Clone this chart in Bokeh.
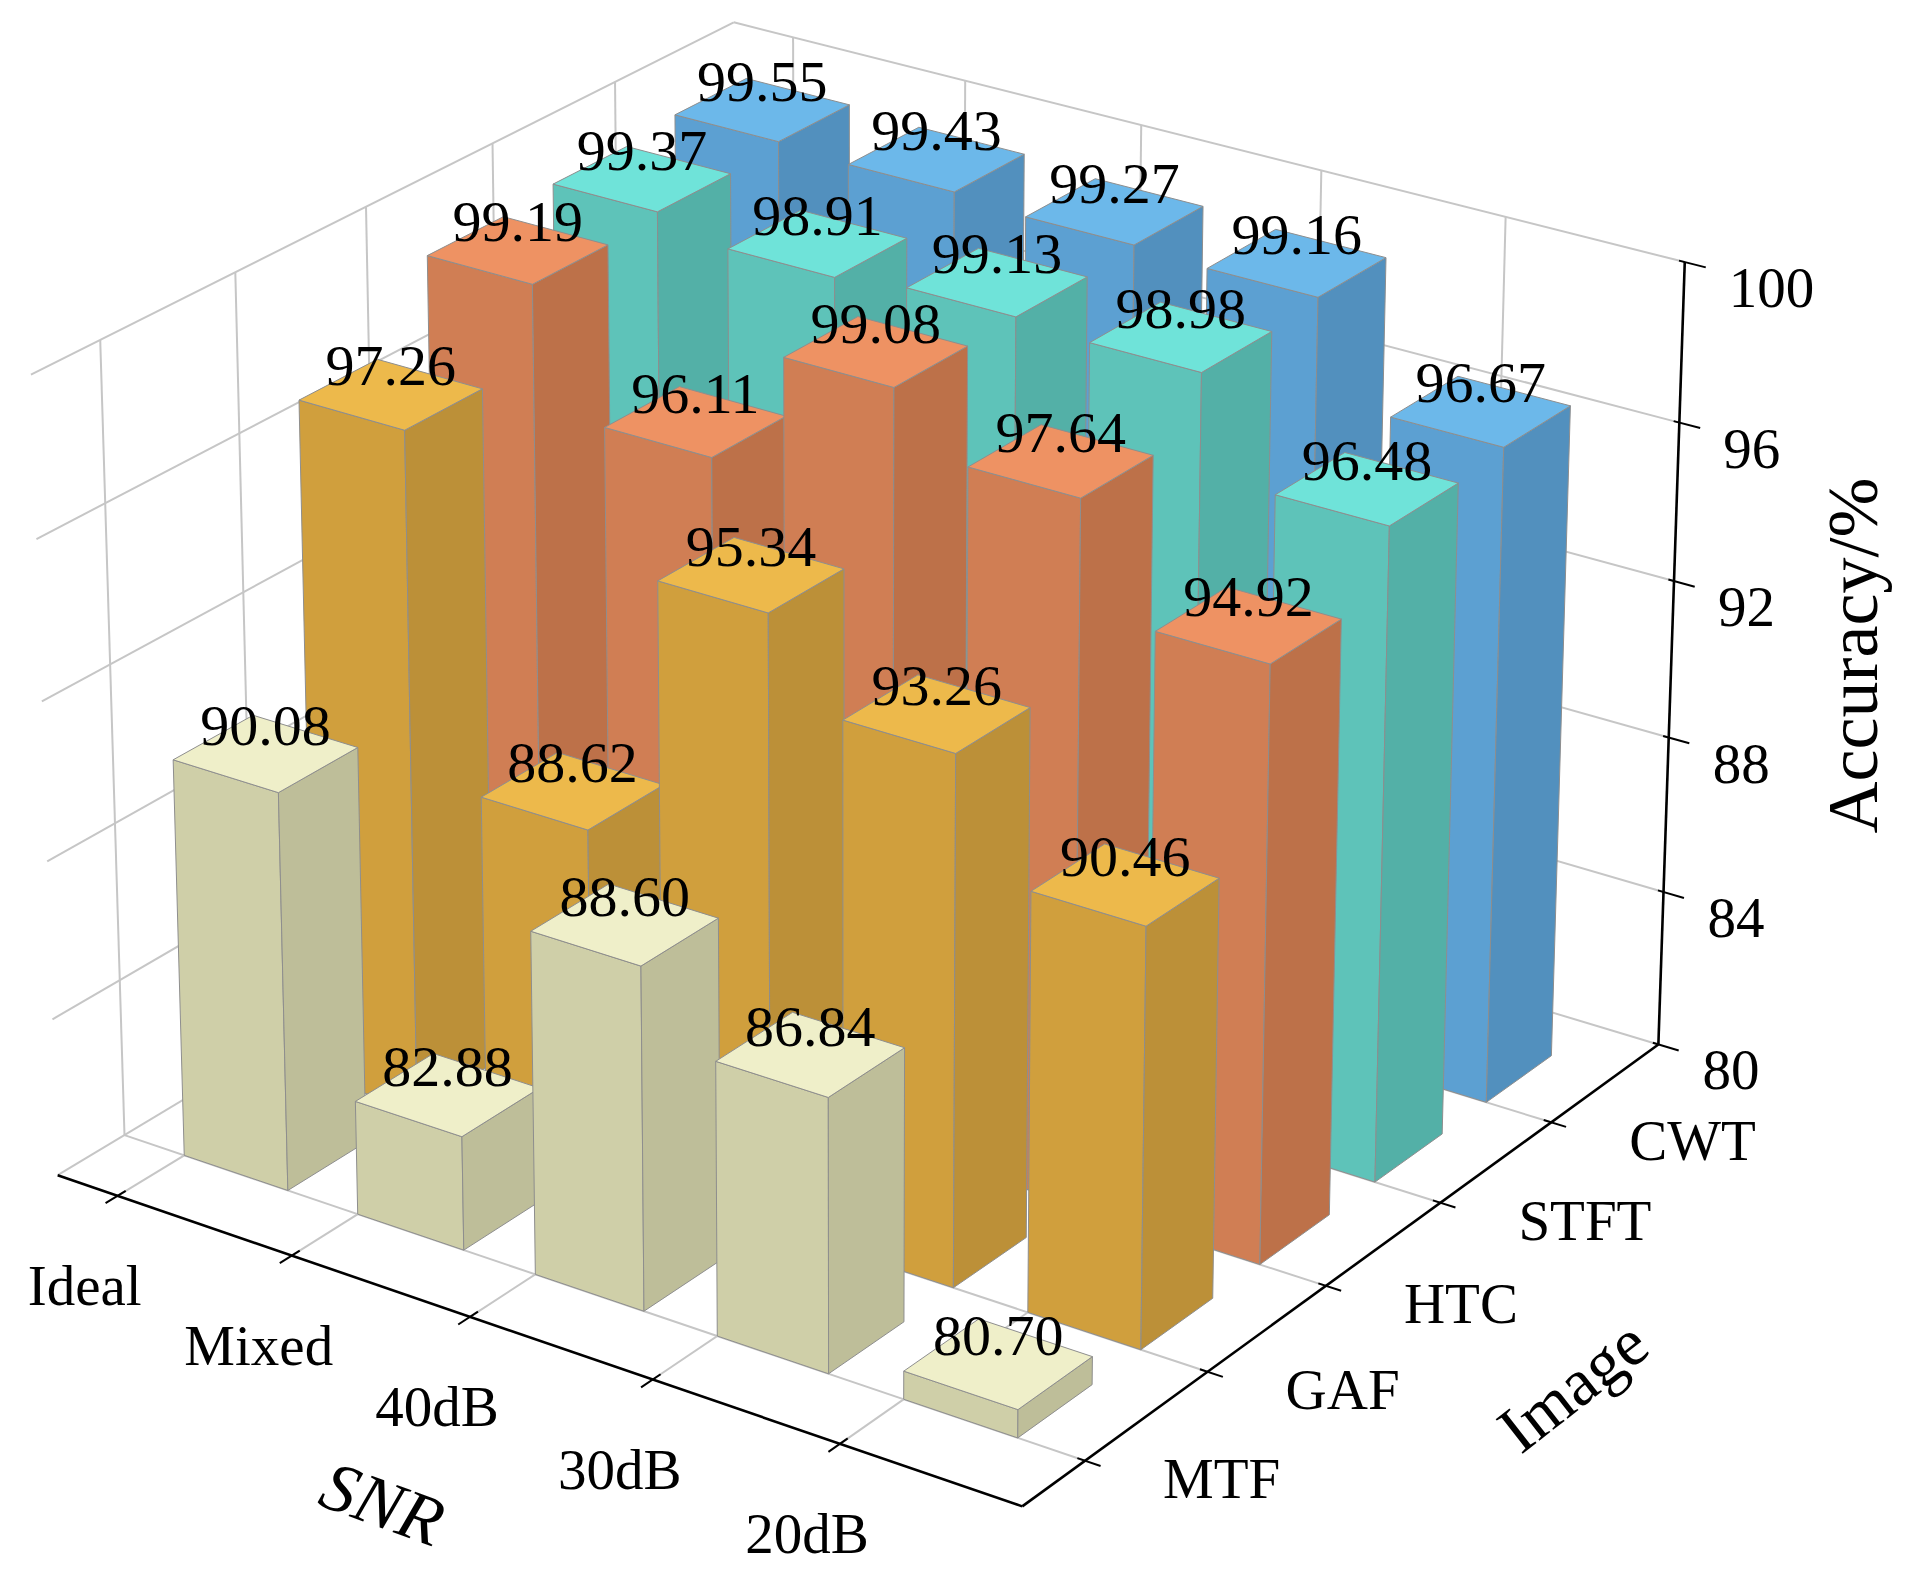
import numpy as np
from bokeh.plotting import figure
from bokeh.models import Range1d, ColumnDataSource
from bokeh.embed import file_html
from bokeh.resources import INLINE
from bokeh.core.properties import value

# ---------------- data ----------------
snr_labels = ["Ideal", "Mixed", "40dB", "30dB", "20dB"]
image_labels = ["MTF", "GAF", "HTC", "STFT", "CWT"]
acc_mtf = [90.08, 82.88, 88.60, 86.84, 80.70]
acc_gaf = [97.26, 88.62, 95.34, 93.26, 90.46]
acc_htc = [99.19, 96.11, 99.08, 97.64, 94.92]
acc_stft = [99.37, 98.91, 99.13, 98.98, 96.48]
acc_cwt = [99.55, 99.43, 99.27, 99.16, 96.67]
z_ticks = [80, 84, 88, 92, 96, 100]

series = [acc_mtf, acc_gaf, acc_htc, acc_stft, acc_cwt]

# ---------------- style ----------------
TOP = ["#EFEFC9", "#EDB94B", "#EE9263", "#6FE3D9", "#6CB8EA"]
FRONT = ["#CFCFA8", "#D09F3D", "#D07E54", "#5EC3B9", "#5CA0D2"]
SIDE = ["#BEBE99", "#BC9038", "#BD7149", "#53B0A7", "#5290BE"]
FONT = "Liberation Serif"
GRID = "#c6c6c6"
TXT_SHIFT = 13  # px, compensates baseline placement

# box extents (category units / accuracy)
X0, X1 = 0.65, 5.95
Y0, Y1 = 0.5, 6.0
Z0, Z1 = 80.0, 100.0
BAR_W = 0.6

# camera projection (homogeneous 3x4, world -> page pixels)
M = np.array([
    [150.37597711271601, 120.19824395009692, -1.238039101853491, -1.1019174176106425],
    [39.54345423526473, -54.42899561858297, -35.982771728038884, 3927.084417211682],
    [-0.010416330387801702, 0.01452490758236034, -0.001440910611212899, 1.0],
])


def proj(x, y, z):
    h = M @ np.array([x, y, z, 1.0])
    return h[0] / h[2], h[1] / h[2]


def depth(x, y, z):
    h = M @ np.array([x, y, z, 1.0])
    return h[2]


W, H = 1899, 1579
p = figure(width=W, height=H, output_backend="svg", toolbar_location=None,
           x_range=Range1d(8, 8 + W), y_range=Range1d(-(8 + H), -8),
           x_axis_location=None, y_axis_location=None, min_border=0)
p.grid.visible = False
p.outline_line_color = None
p.background_fill_color = "white"
p.border_fill_color = "white"


def seg_list(segs):
    xs, ys = [], []
    for a, b in segs:
        u1, v1 = proj(*a)
        u2, v2 = proj(*b)
        xs.append([u1, u2])
        ys.append([-v1, -v2])
    return xs, ys


# ---------------- grid (floor + walls) ----------------
grid = []
ticks_x = [i + 1 for i in range(len(snr_labels))]
ticks_y = [j + 1 for j in range(len(image_labels))]
for t in ticks_x:
    grid.append(((t, Y0, Z0), (t, Y1, Z0)))          # floor
    grid.append(((t, Y1, Z0), (t, Y1, Z1)))          # back wall (image end)
for t in ticks_y:
    grid.append(((X0, t, Z0), (X1, t, Z0)))          # floor
    grid.append(((X0, t, Z0), (X0, t, Z1)))          # left wall
grid.append(((X0, Y0, Z0), (X0, Y1, Z0)))
grid.append(((X0, Y1, Z0), (X1, Y1, Z0)))
for z in z_ticks[1:]:
    grid.append(((X0, Y0, z), (X0, Y1, z)))
    grid.append(((X0, Y1, z), (X1, Y1, z)))
gx, gy = seg_list(grid)
p.multi_line(gx, gy, line_color=GRID, line_width=2)

# ---------------- bars ----------------
bars = []
for j, vals in enumerate(series):
    for i, val in enumerate(vals):
        xa, ya = ticks_x[i], ticks_y[j]
        xb, yb = xa + BAR_W, ya + BAR_W
        d = depth(xa + BAR_W / 2, ya + BAR_W / 2, Z0)
        bars.append((d, j, i, xa, xb, ya, yb, val))
bars.sort(key=lambda b: -b[0])

fx, fy, fc = [], [], []
for d, j, i, xa, xb, ya, yb, val in bars:
    faces = [
        ([(xa, ya, Z0), (xb, ya, Z0), (xb, ya, val), (xa, ya, val)], FRONT[j]),
        ([(xb, ya, Z0), (xb, yb, Z0), (xb, yb, val), (xb, ya, val)], SIDE[j]),
        ([(xa, ya, val), (xb, ya, val), (xb, yb, val), (xa, yb, val)], TOP[j]),
    ]
    for pts, col in faces:
        uv = [proj(*q) for q in pts]
        fx.append([u for u, v in uv])
        fy.append([-v for u, v in uv])
        fc.append(col)
p.patches(xs="xs", ys="ys", fill_color="c", line_color="#8e8e8e", line_width=1,
          source=ColumnDataSource(dict(xs=fx, ys=fy, c=fc)))

# ---------------- axes ----------------
axes = [((X0, Y0, Z0), (X1, Y0, Z0)),
        ((X1, Y0, Z0), (X1, Y1, Z0)),
        ((X1, Y1, Z0), (X1, Y1, Z1))]
ticks = []
for t in ticks_x:
    ticks.append(((t, Y0 - 0.09, Z0), (t, Y0 + 0.06, Z0)))
for t in ticks_y:
    ticks.append(((X1 - 0.04, t, Z0), (X1 + 0.08, t, Z0)))
for z in z_ticks:
    ticks.append(((X1 - 0.03, Y1, z), (X1 + 0.11, Y1, z)))
ax, ay = seg_list(axes)
p.multi_line(ax, ay, line_color="black", line_width=2.6)
tx, ty = seg_list(ticks)
p.multi_line(tx, ty, line_color="black", line_width=2)

# ---------------- tick labels ----------------
lx, ly = [], []
for t in ticks_x:
    u, v = proj(t, Y0, Z0)
    lx.append(u - 33)
    ly.append(-(v + 103 - TXT_SHIFT))
p.text(lx, ly, text=snr_labels, text_font=value(FONT), text_font_size="57px",
       text_align="center", text_baseline="alphabetic", text_color="black")

lx, ly = [], []
for t in ticks_y:
    u, v = proj(X1, t, Z0)
    lx.append(u + 78)
    ly.append(-(v + 31 - TXT_SHIFT))
p.text(lx, ly, text=image_labels, text_font=value(FONT), text_font_size="57px",
       text_align="left", text_baseline="alphabetic", text_color="black")

lx, ly = [], []
for z in z_ticks:
    u, v = proj(X1, Y1, z)
    lx.append(u + 44)
    ly.append(-(v + 39 - TXT_SHIFT))
p.text(lx, ly, text=[str(z) for z in z_ticks], text_font=value(FONT),
       text_font_size="57px", text_align="left", text_baseline="alphabetic",
       text_color="black")

# ---------------- value labels ----------------
vx, vy, vt = [], [], []
for d, j, i, xa, xb, ya, yb, val in bars:
    u, v = proj(xa + BAR_W / 2, ya + BAR_W / 2, val)
    vx.append(u)
    vy.append(-(v - 15 - TXT_SHIFT))
    vt.append("%.2f" % val)
p.text(vx, vy, text=vt, text_font=value(FONT), text_font_size="58px",
       text_align="center", text_baseline="alphabetic", text_color="black")

# ---------------- axis titles ----------------
p.text([1860], [-663], text=["Accuracy/%"], angle=np.pi / 2, text_font=value(FONT),
       text_font_size="72px", text_align="center", text_baseline="middle",
       text_color="black")
p.text([1580], [-1393], text=["Image"], angle=np.deg2rad(38), text_font=value(FONT),
       text_font_size="67px", text_align="center", text_baseline="middle",
       text_color="black")
p.text([390], [-1511], text=["SNR"], angle=np.deg2rad(-20), text_font=value(FONT),
       text_font_size="70px", text_font_style="italic", text_align="center",
       text_baseline="middle", text_color="black")

open("out.html", "w").write(file_html(p, INLINE))
